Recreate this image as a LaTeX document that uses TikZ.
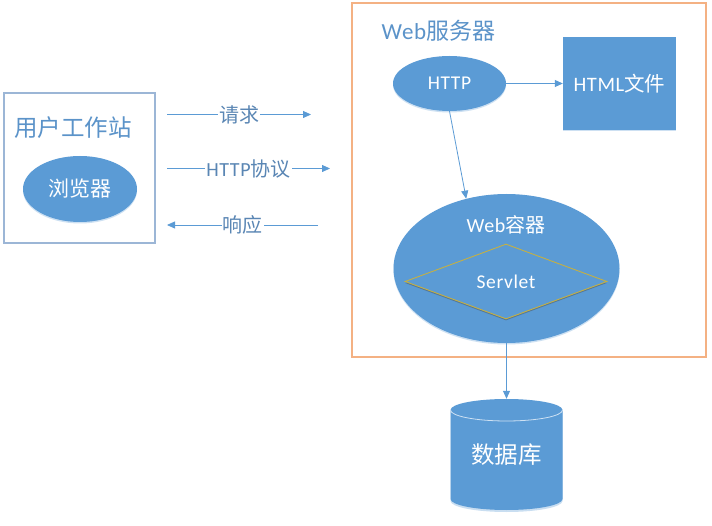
\documentclass[tikz,border=0pt]{standalone}
\usepackage{fontspec}
\setmainfont{Carlito}[LetterSpace=3]
\newfontfamily\cjk{Noto Sans CJK SC}
\usetikzlibrary{shapes.geometric,arrows.meta,shadows}
\definecolor{acc}{HTML}{5B9BD5}
\definecolor{boxline}{HTML}{9CB6D6}
\definecolor{orangeline}{HTML}{F4B183}
\definecolor{goldline}{HTML}{C4B044}
\definecolor{labtext}{HTML}{5A86B4}
\definecolor{titletext}{HTML}{5B93C9}
\tikzset{
  softshadow/.style={drop shadow={shadow xshift=0pt,shadow yshift=-1.5pt,opacity=.3,fill=acc}},
  solidell/.style={ellipse,fill=acc,draw=none,inner sep=0pt,text=white,softshadow},
  conn/.style={draw=acc,line width=.8pt,-{Triangle[length=8pt,width=7pt]}},
  lab/.style={fill=white,inner sep=1pt,text=labtext,font=\fontsize{20}{20}\selectfont},
  title/.style={text=titletext,inner sep=0pt,anchor=center},
}
\begin{document}
\begin{tikzpicture}[x=1pt,y=-1pt]
\useasboundingbox (0,0) rectangle (712,526);
\fill[white] (0,0) rectangle (712,526);
% frames
\node[draw=boxline,line width=1.1pt,minimum width=151pt,minimum height=150pt,inner sep=0pt] (user) at (79.5,168) {};
\node[draw=orangeline,line width=1.1pt,minimum width=354pt,minimum height=354pt,inner sep=0pt] (server) at (529,180) {};
% titles
\node[title,font=\fontsize{23.5}{24}\selectfont] (usertitle) at (73,127.5) {\cjk 用户工作站};
\node[title,font=\fontsize{23}{24}\selectfont] (servertitle) at (438.5,31) {Web{\cjk 服务器}};
% user browser
\node[solidell,minimum width=114pt,minimum height=66pt] (browser) at (80,189) {\fontsize{21}{21}\selectfont\cjk 浏览器};
% server contents
\node[solidell,minimum width=113pt,minimum height=55pt] (http) at (449.5,83.5) {\fontsize{19.5}{20}\selectfont HTTP};
\node[rectangle,fill=acc,minimum width=113pt,minimum height=93pt,inner sep=0pt,text=white,softshadow] (html) at (619.5,83.5) {\fontsize{20.5}{21}\selectfont HTML{\cjk 文件}};
\node[solidell,minimum width=226pt,minimum height=149pt] (web) at (506.5,268.5) {};
\node[text=white,inner sep=0pt,font=\fontsize{20}{20}\selectfont] (webtitle) at (506,225) {Web{\cjk 容器}};
\node[diamond,aspect=2.7,draw=goldline,line width=.9pt,fill=acc,minimum width=202pt,minimum height=75pt,inner sep=0pt,text=white,drop shadow={shadow xshift=0pt,shadow yshift=-1.5pt,opacity=.45,fill=black!70}] (servlet) at (506,281.5) {\fontsize{19.5}{20}\selectfont Servlet};
% database
\fill[acc!55,opacity=.6] (450.5,411.5) -- (450.5,501) arc[start angle=180,end angle=0,x radius=56,y radius=11] -- (562.5,411.5) -- cycle;
\fill[acc] (450.5,410) arc[start angle=180,end angle=360,x radius=56,y radius=11] -- (562.5,499) arc[start angle=0,end angle=180,x radius=56,y radius=11] -- cycle;
\draw[white!70!acc,line width=.8pt] (450.5,410) arc[start angle=180,end angle=0,x radius=56,y radius=11];
\node[rectangle,text=white,inner sep=0pt,minimum width=112pt,minimum height=111pt,font=\fontsize{23.5}{24}\selectfont\cjk] (db) at (506.5,454.5) {数据库};
% labelled connectors
\coordinate (r1) at (167,114.5);
\coordinate (r2) at (311,114.5);
\coordinate (p1) at (167,168.5);
\coordinate (p2) at (330,168.5);
\coordinate (s1) at (318,225);
\coordinate (s2) at (167,225);
\draw[conn] (r1) -- node[lab]{\cjk 请求} (r2);
\draw[conn] (p1) -- node[lab]{HTTP{\cjk 协议}} (p2);
\draw[conn] (s1) -- node[lab]{\cjk 响应} (s2);
% connectors
\draw[conn] (http.east) -- (html.west);
\draw[conn] (http.south) -- (web.120);
\draw[conn] (web.south) -- (db.north);
\end{tikzpicture}
\end{document}
